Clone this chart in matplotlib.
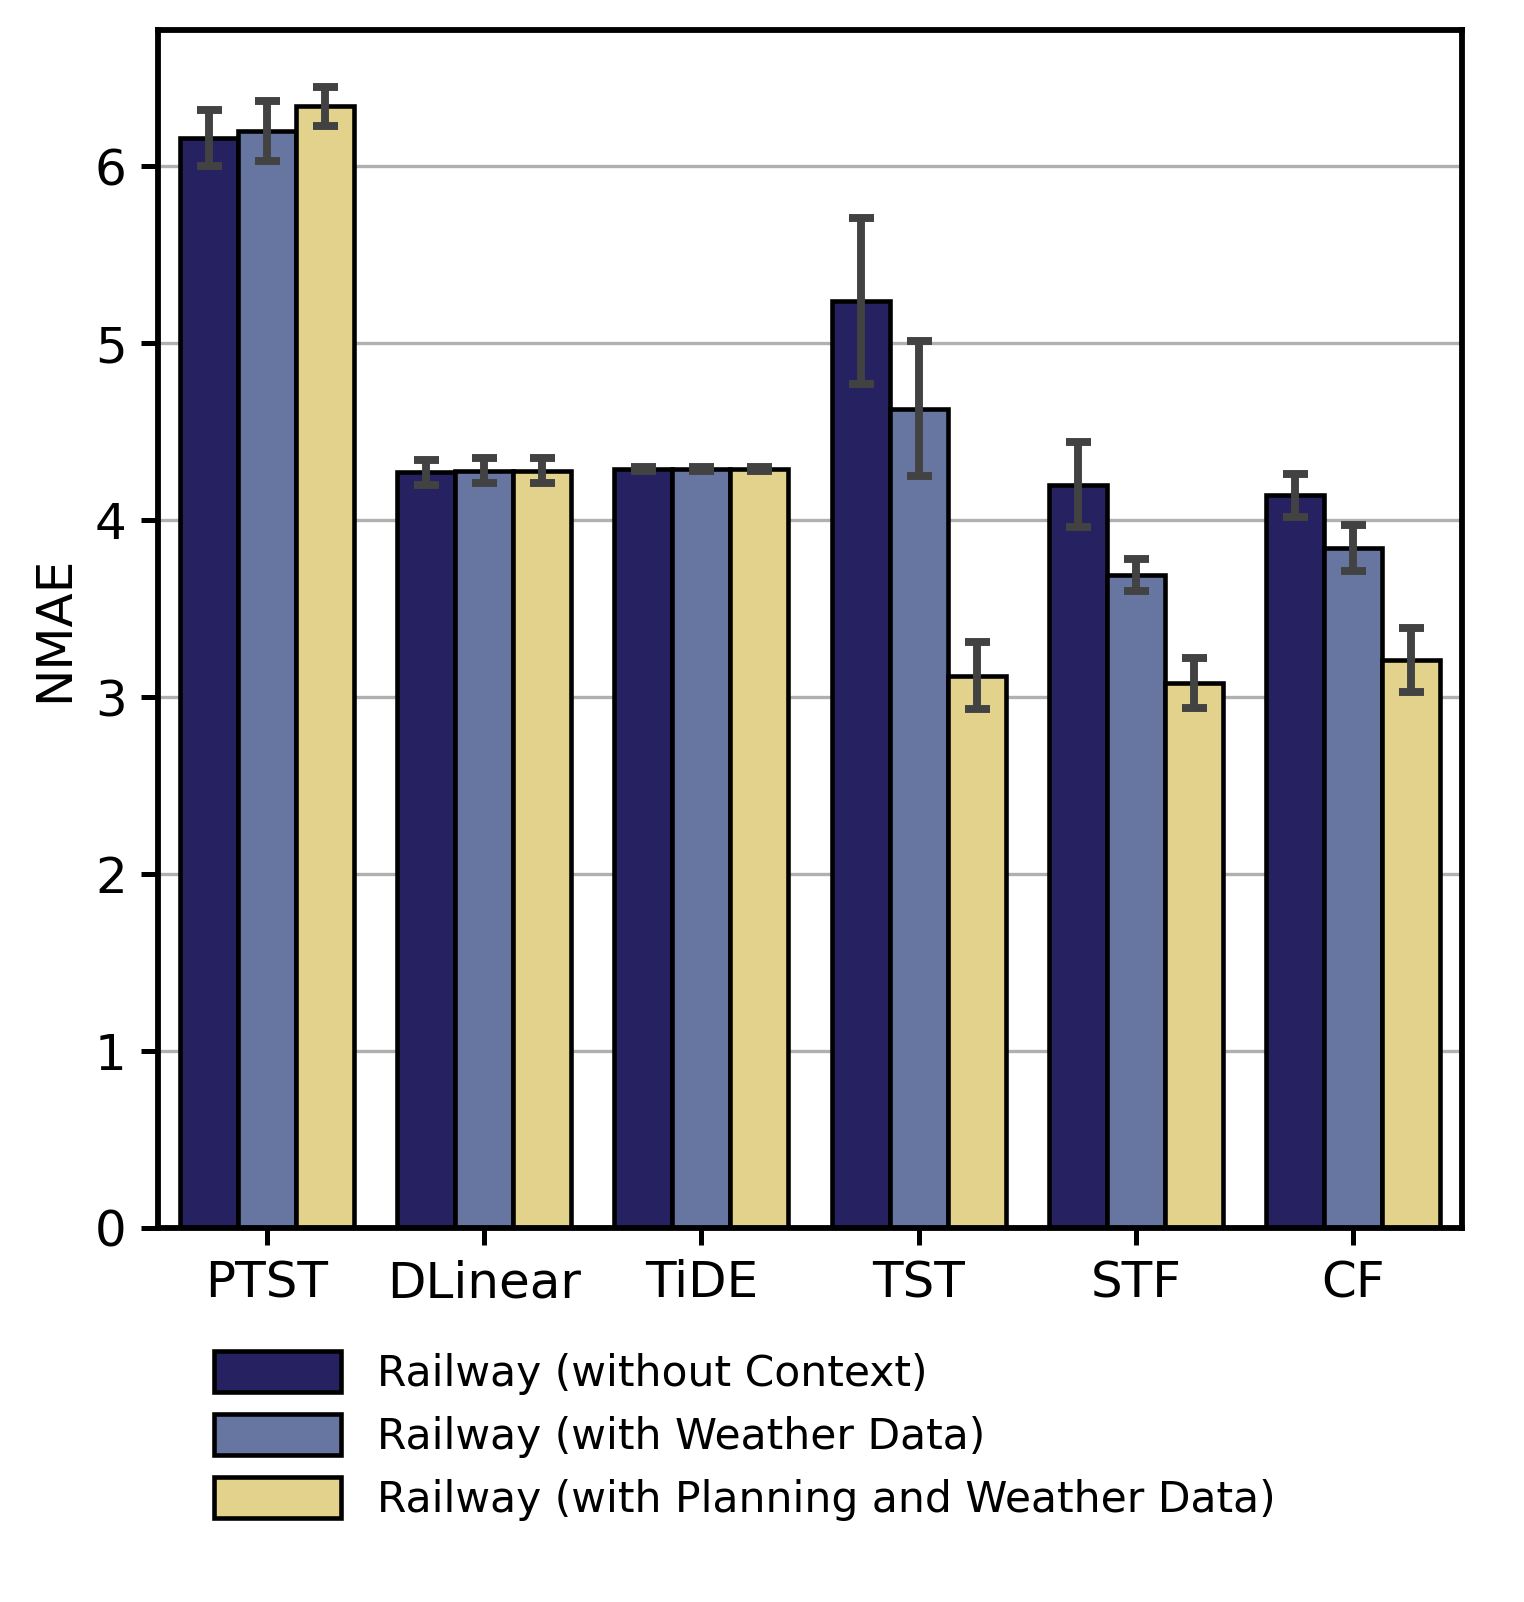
import numpy as np
import matplotlib.pyplot as plt
from matplotlib.patches import Patch

models = ['PTST', 'DLinear', 'TiDE', 'TST', 'STF', 'CF']
series = ['Railway (without Context)',
          'Railway (with Weather Data)',
          'Railway (with Planning and Weather Data)']
colors = ['#262262', '#6676a0', '#e2d28c']

# mean NMAE per model, and half-width of the error bar
no_context = [6.16, 4.27, 4.29, 5.24, 4.20, 4.14]
no_context_err = [0.16, 0.07, 0.01, 0.47, 0.24, 0.12]
weather = [6.20, 4.28, 4.29, 4.63, 3.69, 3.84]
weather_err = [0.17, 0.07, 0.01, 0.38, 0.09, 0.13]
planning_weather = [6.34, 4.28, 4.29, 3.12, 3.08, 3.21]
planning_weather_err = [0.11, 0.07, 0.01, 0.19, 0.14, 0.18]

values = [no_context, weather, planning_weather]
errors = [no_context_err, weather_err, planning_weather_err]

fig = plt.figure(figsize=(5.08, 5.34), dpi=300)
ax = fig.add_axes([0.1037, 0.2335, 0.8556, 0.7478])

x = np.arange(len(models))
width = 0.8 / 3
for i in range(3):
    pos = x + (i - 1) * width
    ax.bar(pos, values[i], width=width, color=colors[i], edgecolor='black',
           linewidth=1.1, zorder=2)
    ax.errorbar(pos, values[i], yerr=errors[i], fmt='none', ecolor='#424242',
                elinewidth=1.9, capsize=3, capthick=1.9, zorder=3)

ax.set_xticks(x)
ax.set_xticklabels(models, fontsize=12)
ax.tick_params(axis='y', labelsize=12)
ax.tick_params(width=1.2, length=4)
ax.set_xlim(-0.5, len(models) - 0.5)
ax.set_ylim(0, 6.77)
ax.set_ylabel('NMAE', fontsize=12)
ax.yaxis.grid(True, color='#b0b0b0', linewidth=0.8, zorder=0)
ax.set_axisbelow(True)
for s in ax.spines.values():
    s.set_linewidth(1.4)

handles = [Patch(facecolor=c, edgecolor='black', linewidth=1.1) for c in colors]
fig.legend(handles, series, loc='upper left', bbox_to_anchor=(0.129, 0.167),
           frameon=False, fontsize=10.2, handlelength=3.0, handleheight=1.1,
           handletextpad=0.85, labelspacing=0.45, borderaxespad=0)

fig.savefig('out.png', dpi=300)
